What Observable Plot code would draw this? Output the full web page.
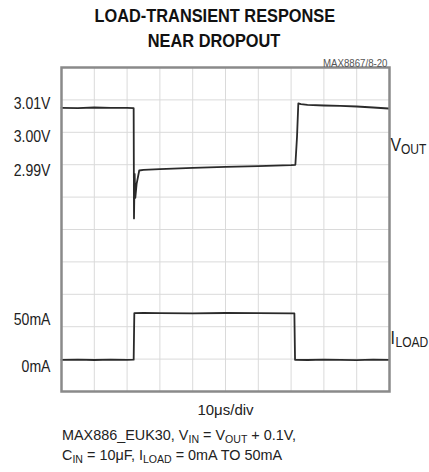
<!DOCTYPE html>
<html><head><meta charset="utf-8">
<script src="https://cdn.jsdelivr.net/npm/d3@7"></script>
<script src="https://cdn.jsdelivr.net/npm/@observablehq/plot@0.6"></script>
<style>
body{margin:0;background:#fff;}
#wrap{position:relative;width:429px;height:472px;overflow:hidden;font-family:"Liberation Sans",Arial,sans-serif;color:#1a1a1a;}
#title{position:absolute;left:0;top:3px;width:429px;text-align:center;font-weight:bold;font-size:19px;line-height:25px;color:#111;}
#title span{display:inline-block;transform:scaleX(0.86);transform-origin:50% 50%;white-space:nowrap;}
#chart{position:absolute;left:0;top:50px;}
#caption{position:absolute;left:62px;top:425px;font-size:15px;line-height:20px;color:#222;white-space:nowrap;}
#caption span{display:inline-block;transform:scaleX(0.96);transform-origin:0 50%;}
#caption sub{font-size:11px;vertical-align:-3px;line-height:0;}
</style></head>
<body><div id="wrap">
<div id="title"><span>LOAD-TRANSIENT RESPONSE</span><br><span>NEAR DROPOUT</span></div>
<div id="chart"></div>
<div id="caption"><span>MAX886_EUK30, V<sub>IN</sub> = V<sub>OUT</sub> + 0.1V,</span><br><span>C<sub>IN</sub> = 10μF, I<sub>LOAD</sub> = 0mA TO 50mA</span></div>
</div>
<script>
// ---- data ----
// time in µs (10 µs/div, 10 divisions)
const voutTime  = [0, 5, 10, 15, 20, 22.0, 22.1, 22.3, 22.5, 22.9, 23.7, 25, 30, 40, 50, 60, 70, 71.3, 71.8, 72.2, 73, 75, 80, 85, 90, 95, 99.7];
const voutVolts = [3.0087, 3.0086, 3.0088, 3.0087, 3.0087, 3.0086, 2.9757, 2.9890, 2.9818, 2.9860, 2.9900, 2.9902, 2.9904, 2.9908, 2.9911, 2.9913, 2.9916, 2.9917, 3.0000, 3.0100, 3.0098, 3.0096, 3.0094, 3.0093, 3.0091, 3.0088, 3.0085];
const iloadTime = [0, 5, 10, 15, 20, 22.0, 22.2, 25, 30, 40, 50, 60, 70, 71.0, 71.2, 75, 80, 85, 90, 95, 99.7];
const iloadMA   = [0, 0.2, -0.2, 0.3, 0, 0.2, 50, 50.3, 50.1, 49.8, 50.2, 50, 49.8, 49.9, 0, -0.2, 0.2, 0, -0.3, 0.2, 0];
const voltTicks = [3.01, 3.00, 2.99];
const currentTicks = [0, 50];
const timeLabel = "10μs/div";
const figureId = "MAX8867/8-20";
const channelNames = ["V", "I"];
const channelSubs = ["OUT", "LOAD"];

// ---- scope channel placement (divisions on a 10-division screen) ----
const V_REF = 3.00, V_REF_DIV = 7.855, V_DIV_PER_VOLT = 103.4;
const I_ZERO_DIV = 0.978, I_DIV_PER_MA = 0.02877;
const vToDiv = v => V_REF_DIV + (v - V_REF) * V_DIV_PER_VOLT;
const iToDiv = i => I_ZERO_DIV + i * I_DIV_PER_MA;

const vout = voutTime.map((t, k) => ({t, div: vToDiv(voutVolts[k])}));
const iload = iloadTime.map((t, k) => ({t, div: iToDiv(iloadMA[k])}));
const channelLabelDiv = [7.6, 1.64];
const channels = channelNames.map((n, k) => ({name: n, sub: channelSubs[k], div: channelLabelDiv[k]}));
const subShift = [10.5, 5];

const font = '"Liberation Sans",Arial,sans-serif';
const gridX = d3.range(10, 100, 10);
const gridY = d3.range(1, 10, 1);

const plot = Plot.plot({
  width: 429,
  height: 380,
  marginTop: 17,
  marginBottom: 39,
  marginLeft: 61,
  marginRight: 40,
  x: {domain: [0, 100], axis: null},
  y: {domain: [0, 10], axis: null},
  style: {fontFamily: font, background: "transparent", overflow: "visible"},
  marks: [
    Plot.ruleX(gridX, {stroke: "#dadada", strokeWidth: 1}),
    Plot.ruleY(gridY, {stroke: "#dadada", strokeWidth: 1}),
    Plot.line(vout, {x: "t", y: "div", stroke: "#2a2a2a", strokeWidth: 1.8, curve: "linear"}),
    Plot.line(iload, {x: "t", y: "div", stroke: "#2a2a2a", strokeWidth: 1.8, curve: "linear"}),
    Plot.frame({stroke: "#8a8a8a", strokeWidth: 2.5}),
    // text marks, in this order: 0 volt ticks, 1 current ticks, 2 channel names, 3 channel subscripts, 4 time label, 5 figure id
    Plot.text(voltTicks, {y: d => vToDiv(d), text: d => d.toFixed(2) + "V", frameAnchor: "left", dx: -11, textAnchor: "end", fontSize: 16, fill: "#222"}),
    Plot.text(currentTicks, {y: d => iToDiv(d), text: d => d + "mA", frameAnchor: "left", dx: -11, dy: 7, textAnchor: "end", fontSize: 16, fill: "#222"}),
    Plot.text(channels, {y: "div", text: "name", frameAnchor: "right", dx: 1, textAnchor: "start", fontSize: 18, fill: "#222"}),
    Plot.text(channels, {y: "div", text: "sub", frameAnchor: "right", dx: 1, textAnchor: "start", fontSize: 14, dy: 4, fill: "#222"}),
    Plot.text([timeLabel], {frameAnchor: "bottom", dy: 23, fontSize: 15, fill: "#222"}),
    Plot.text([figureId], {frameAnchor: "top-right", dx: -2, dy: -8, textAnchor: "end", fontSize: 11, fill: "#555"})
  ]
});
document.getElementById("chart").appendChild(plot);

const textGroups = plot.querySelectorAll("g[aria-label='text']");
// condensed look: squeeze text horizontally around its anchor point (optionally shifted)
function squeeze(idx, s, shifts) {
  textGroups[idx].querySelectorAll("text").forEach((el, k) => {
    let tr = el.getAttribute("transform");
    if (!tr) {
      const x = el.getAttribute("x") || 0, y = el.getAttribute("y") || 0;
      el.removeAttribute("x"); el.removeAttribute("y");
      tr = `translate(${x},${y})`;
    }
    const sh = shifts ? ` translate(${shifts[k]},0)` : "";
    el.setAttribute("transform", tr + sh + ` scale(${s},1)`);
  });
}
squeeze(0, 0.88);
squeeze(1, 0.88);
squeeze(2, 0.88);
squeeze(3, 0.86, subShift);
squeeze(5, 0.88);
</script>
</body></html>
